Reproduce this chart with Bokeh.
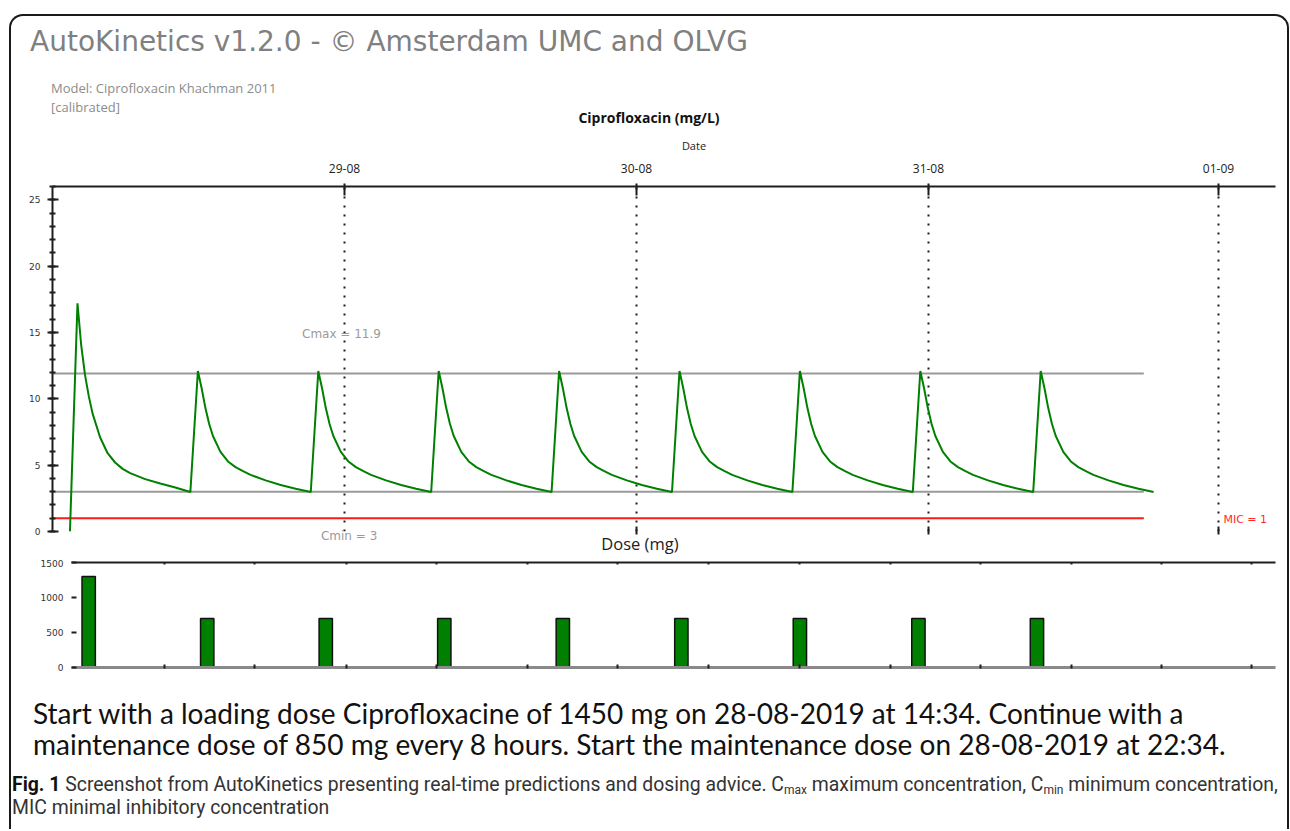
from bokeh.plotting import figure
from bokeh.models import Range1d, LinearAxis, FixedTicker, Label, Div, Grid
from bokeh.layouts import column
from bokeh.embed import file_html
from bokeh.resources import INLINE

# ---------------- data ----------------
TITLE = "AutoKinetics v1.2.0 - \u00a9 Amsterdam UMC and OLVG"
MODEL_LINES = ["Model: Ciprofloxacin Khachman 2011", "[calibrated]"]
CONC_TITLE = "Ciprofloxacin (mg/L)"
DATE_AXIS_TITLE = "Date"
DOSE_TITLE = "Dose (mg)"

# x is hours since the loading dose
X_RANGE = (-1.16, 80.1)
DATE_LABELS = ["29-08", "30-08", "31-08", "01-09"]
DATE_TICKS_H = [18.24, 37.64, 57.04, 76.31]

T_HOURS = [
    0, 0.5, 0.75, 1, 1.25, 1.5, 2, 2.5, 3, 3.5, 4, 5, 6, 7,
    8, 8.5, 8.75, 9, 9.25, 9.5, 10, 10.5, 11, 11.5, 12, 13, 14, 15,
    16, 16.5, 16.75, 17, 17.25, 17.5, 18, 18.5, 19, 19.5, 20, 21, 22, 23,
    24, 24.5, 24.75, 25, 25.25, 25.5, 26, 26.5, 27, 27.5, 28, 29, 30, 31,
    32, 32.5, 32.75, 33, 33.25, 33.5, 34, 34.5, 35, 35.5, 36, 37, 38, 39,
    40, 40.5, 40.75, 41, 41.25, 41.5, 42, 42.5, 43, 43.5, 44, 45, 46, 47,
    48, 48.5, 48.75, 49, 49.25, 49.5, 50, 50.5, 51, 51.5, 52, 53, 54, 55,
    56, 56.5, 56.75, 57, 57.25, 57.5, 58, 58.5, 59, 59.5, 60, 61, 62, 63,
    64, 64.5, 64.75, 65, 65.25, 65.5, 66, 66.5, 67, 67.5, 68, 69, 70, 71,
    72,
]
CONC = [
    0.0, 17.2, 14.0, 11.8, 10.2, 8.9, 7.1, 5.9, 5.2, 4.72, 4.4, 3.95, 3.62, 3.32,
    2.98, 12.1, 10.8, 9.3, 8.1, 7.2, 6.0, 5.28, 4.85, 4.55, 4.27, 3.85, 3.5, 3.22,
    2.98, 12.1, 10.8, 9.3, 8.1, 7.2, 6.0, 5.28, 4.85, 4.55, 4.27, 3.85, 3.5, 3.22,
    2.98, 12.1, 10.8, 9.3, 8.1, 7.2, 6.0, 5.28, 4.85, 4.55, 4.27, 3.85, 3.5, 3.22,
    2.98, 12.1, 10.8, 9.3, 8.1, 7.2, 6.0, 5.28, 4.85, 4.55, 4.27, 3.85, 3.5, 3.22,
    2.98, 12.1, 10.8, 9.3, 8.1, 7.2, 6.0, 5.28, 4.85, 4.55, 4.27, 3.85, 3.5, 3.22,
    2.98, 12.1, 10.8, 9.3, 8.1, 7.2, 6.0, 5.28, 4.85, 4.55, 4.27, 3.85, 3.5, 3.22,
    2.98, 12.1, 10.8, 9.3, 8.1, 7.2, 6.0, 5.28, 4.85, 4.55, 4.27, 3.85, 3.5, 3.22,
    2.98, 12.1, 10.8, 9.3, 8.1, 7.2, 6.0, 5.28, 4.85, 4.55, 4.27, 3.85, 3.5, 3.22,
    2.98,
]
CMAX = 11.9
CMIN = 3
MIC = 1
TARGET_LINE_END_H = 71.35
CMAX_LABEL_H = 18.04
CMIN_LABEL_H = 18.55
MIC_LABEL_H = 76.64
DOSE_TITLE_H = 37.87
CONC_TICKS = [0, 5, 10, 15, 20, 25]
CONC_MINOR_TICKS = list(range(0, 27))

DOSE_TIMES_H = [0, 8, 16, 24, 32, 40, 48, 56, 64]
DOSE_MG = [1300, 700, 700, 700, 700, 700, 700, 700, 700]
DOSE_TICKS = [0, 500, 1000, 1500]
DOSE_X_TICKS_H = [5.1, 11.2, 17.4, 23.5, 29.6, 35.7, 41.8, 48.0, 54.1, 60.2, 66.3, 72.4, 78.5]

ADVICE_LINES = [
    "Start with a loading dose Ciprofloxacine of 1450 mg on 28-08-2019 at 14:34. Continue with a",
    "maintenance dose of 850 mg every 8 hours. Start the maintenance dose on 28-08-2019 at 22:34.",
]

GREEN = "#008000"
DARK = "#1e1e1e"
W = 1276


def no_frame_align(p):
    try:
        p.frame_align = False
    except Exception:
        pass


# ---------------- header ----------------
header_html = (
    f'<div style="position:relative;width:{W}px;height:139px;white-space:nowrap;">'
    '<div style="position:absolute;left:19px;top:9px;font-family:\'DejaVu Sans\';font-size:28px;'
    f'line-height:34px;color:#808080;">{TITLE}</div>'
    '<div style="position:absolute;left:40px;top:63px;font-family:\'Open Sans\';font-size:13px;'
    f'line-height:19px;color:#8c8c8c;">{MODEL_LINES[0]}<br>{MODEL_LINES[1]}</div>'
    '<div style="position:absolute;left:538px;width:200px;text-align:center;top:93px;'
    'font-family:\'Open Sans\';font-size:14px;font-weight:bold;line-height:18px;color:#111;">'
    f'{CONC_TITLE}</div>'
    '<div style="position:absolute;left:633px;width:100px;text-align:center;top:123px;'
    'font-family:\'Open Sans\';font-size:11px;line-height:14px;color:#222;">'
    f'{DATE_AXIS_TITLE}</div>'
    '</div>'
)
header = Div(text=header_html, width=W, height=139, margin=(0, 0, 0, 0))

# ---------------- concentration plot ----------------
pA = figure(width=W, height=404, x_range=Range1d(*X_RANGE), y_range=Range1d(0, 26),
            x_axis_location=None, y_axis_location="left",
            output_backend="svg", toolbar_location=None,
            min_border_left=41, min_border_right=12, min_border_top=31, min_border_bottom=28)
no_frame_align(pA)
pA.outline_line_color = None
pA.grid.visible = False

ya = pA.yaxis[0]
ya.ticker = FixedTicker(ticks=CONC_TICKS, minor_ticks=CONC_MINOR_TICKS)
ya.axis_line_width = 2
ya.axis_line_color = DARK
ya.major_tick_in = 6
ya.major_tick_out = 5
ya.major_tick_line_width = 2
ya.major_tick_line_color = DARK
ya.minor_tick_in = 3
ya.minor_tick_out = 3
ya.minor_tick_line_width = 2
ya.minor_tick_line_color = DARK
ya.major_label_standoff = 7
ya.major_label_text_font = "DejaVu Sans"
ya.major_label_text_font_size = "9px"
ya.major_label_text_color = "#333333"

vgrid = Grid(dimension=0, ticker=FixedTicker(ticks=DATE_TICKS_H),
             grid_line_color=DARK, grid_line_width=2, grid_line_dash="2 7")
pA.add_layout(vgrid)

top_ax = LinearAxis(ticker=FixedTicker(ticks=DATE_TICKS_H),
                    major_label_overrides={t: l for t, l in zip(DATE_TICKS_H, DATE_LABELS)},
                    axis_line_width=2, axis_line_color=DARK,
                    major_tick_in=9, major_tick_out=3, major_tick_line_width=2,
                    major_tick_line_color=DARK, minor_tick_in=0, minor_tick_out=0,
                    major_label_standoff=11, major_label_text_font="Open Sans",
                    major_label_text_font_size="12px", major_label_text_color="#222222")
pA.add_layout(top_ax, "above")

# bottom: solid date ticks (as minor ticks) and the Cmin label
bot_ax = LinearAxis(ticker=FixedTicker(ticks=[CMIN_LABEL_H], minor_ticks=DATE_TICKS_H[1:]),
                    major_label_overrides={CMIN_LABEL_H: f"Cmin = {CMIN}"},
                    axis_line_color=None, major_tick_line_color=None,
                    major_tick_in=0, major_tick_out=0,
                    minor_tick_in=5, minor_tick_out=3, minor_tick_line_width=2,
                    minor_tick_line_color=DARK, major_label_standoff=-6,
                    major_label_text_font="DejaVu Sans", major_label_text_font_size="12px",
                    major_label_text_color="#9a9a9a")
pA.add_layout(bot_ax, "below")

# second row below: the title of the dose panel
dose_ax = LinearAxis(ticker=FixedTicker(ticks=[DOSE_TITLE_H]),
                     major_label_overrides={DOSE_TITLE_H: DOSE_TITLE},
                     axis_line_color=None, major_tick_line_color=None,
                     major_tick_in=0, major_tick_out=0, minor_tick_in=0, minor_tick_out=0,
                     major_label_standoff=-14, major_label_text_font="Open Sans",
                     major_label_text_font_size="16.5px", major_label_text_color="#222222")
pA.add_layout(dose_ax, "below")

# target lines
for val, col in [(CMAX, "#9a9a9a"), (CMIN, "#9a9a9a"), (MIC, "#ff1a1a")]:
    pA.segment(x0=X_RANGE[0], x1=TARGET_LINE_END_H, y0=val, y1=val,
               line_color=col, line_width=2)

pA.line(T_HOURS, CONC, line_color=GREEN, line_width=2)

pA.add_layout(Label(x=CMAX_LABEL_H, y=CMAX, y_offset=40, text=f"Cmax = {CMAX}",
                    text_align="center", text_baseline="middle", text_font="DejaVu Sans",
                    text_font_size="12px", text_color="#9a9a9a"))
pA.add_layout(Label(x=MIC_LABEL_H, y=MIC, y_offset=-1, text=f"MIC = {MIC}",
                    text_align="left", text_baseline="middle", text_font="DejaVu Sans",
                    text_font_size="11px", text_color="#ff2a2a"))

# ---------------- dose plot ----------------
pB = figure(width=W, height=131, x_range=pA.x_range, y_range=Range1d(0, 1500),
            x_axis_location=None, y_axis_location="left",
            output_backend="svg", toolbar_location=None,
            min_border_left=60, min_border_right=12, min_border_top=3, min_border_bottom=23)
no_frame_align(pB)
pB.outline_line_color = None
pB.grid.visible = False

yb = pB.yaxis[0]
yb.ticker = FixedTicker(ticks=DOSE_TICKS)
yb.axis_line_color = None
yb.major_tick_in = 5
yb.major_tick_out = 0
yb.major_tick_line_width = 2
yb.major_tick_line_color = DARK
yb.minor_tick_in = 0
yb.minor_tick_out = 0
yb.major_label_standoff = 8
yb.major_label_text_font = "DejaVu Sans"
yb.major_label_text_font_size = "9px"
yb.major_label_text_color = "#333333"

b_top = LinearAxis(ticker=FixedTicker(ticks=DOSE_X_TICKS_H), axis_line_width=2,
                   axis_line_color=DARK, major_tick_in=2, major_tick_out=0,
                   major_tick_line_width=2, major_tick_line_color=DARK,
                   minor_tick_in=0, minor_tick_out=0, major_label_standoff=0,
                   major_label_text_font_size="0px", major_label_text_alpha=0)
pB.add_layout(b_top, "above")
b_bot = LinearAxis(ticker=FixedTicker(ticks=DOSE_X_TICKS_H), axis_line_width=3,
                   axis_line_color="#8a8a8a", major_tick_in=3, major_tick_out=1,
                   major_tick_line_width=2, major_tick_line_color=DARK,
                   minor_tick_in=0, minor_tick_out=0, major_label_standoff=0,
                   major_label_text_font_size="0px", major_label_text_alpha=0)
pB.add_layout(b_bot, "below")

pB.vbar(x=DOSE_TIMES_H, top=DOSE_MG, width=0.9, bottom=0,
        fill_color=GREEN, line_color="#111111", line_width=1.5)

# ---------------- advice + caption ----------------
SUB = 'style="font-size:12px;line-height:0;vertical-align:-3px"'
caption_html = (
    f'<div style="position:relative;width:{W}px;height:139px;white-space:nowrap;">'
    '<div style="position:absolute;left:22px;top:8px;font-family:Lato;font-size:28px;'
    'line-height:31px;color:#111;">'
    + ADVICE_LINES[0] + "<br>" + ADVICE_LINES[1] +
    '</div>'
    '<div style="position:absolute;left:1px;top:83px;font-family:Roboto;font-size:19.4px;'
    'line-height:23px;color:#333;">'
    '<b style="color:#111">Fig. 1</b> Screenshot from AutoKinetics presenting real-time predictions '
    f'and dosing advice. C<sub {SUB}>max</sub> '
    f'maximum concentration, C<sub {SUB}>min</sub> '
    'minimum concentration,<br>MIC minimal inhibitory concentration'
    '</div></div>'
)
cap = Div(text=caption_html, width=W, height=139, margin=(0, 0, 0, 0))

layout = column(header, pA, pB, cap, spacing=0, margin=(14, 0, 0, 9),
                styles={"border": "2px solid #1a1a1a", "border-bottom": "none",
                        "border-radius": "14px 14px 0 0"})

open("out.html", "w").write(file_html(layout, INLINE))
